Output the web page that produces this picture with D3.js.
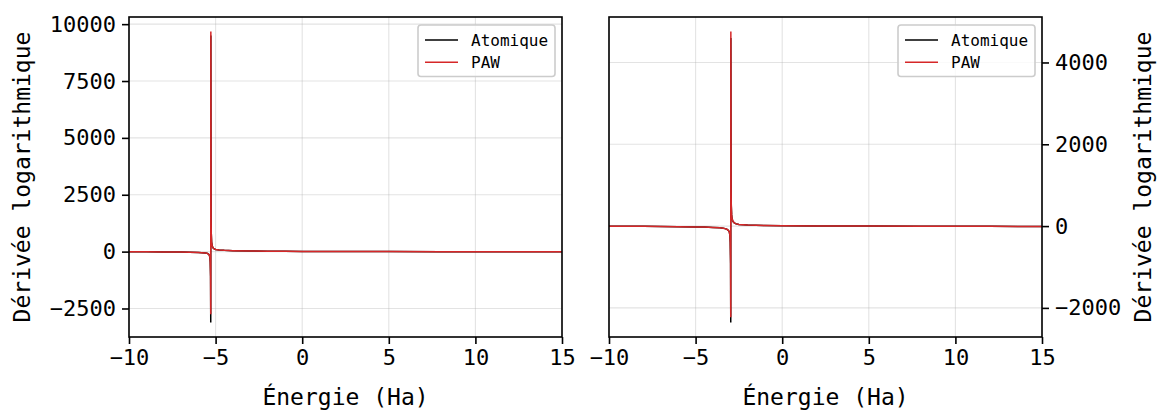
<!DOCTYPE html>
<html><head><meta charset="utf-8">
<script src="https://cdn.jsdelivr.net/npm/d3@7"></script>
<style>
body{margin:0;background:#fff;}
svg text{font-family:"DejaVu Sans Mono",monospace;fill:#000;}
</style></head>
<body><svg id="c" width="1158" height="410"></svg>
<script>
// ---- data ----
const energiesLeft = [-10,-9,-8,-7,-6.5,-6,-5.8,-5.6,-5.5,-5.45,-5.4,-5.36,-5.33,-5.31,-5.29,-5.28,-5.275,-5.26,-5.25,-5.23,-5.2,-5.15,-5.1,-5.0,-4.8,-4.5,-4,-3,-2,-1,0,2,5,8,10,12,15];
const atomicLeft   = [-5,-8,-12,-20,-25,-35,-45,-60,-75,-90,-120,-160,-250,-450,-1100,-3114,9500,1500,800,420,260,170,130,95,70,55,40,25,18,12,8,4,0,-3,-5,-7,-10];
const pawLeft      = [-5,-8,-12,-20,-25,-35,-45,-60,-75,-90,-120,-160,-250,-450,-1100,-2750,9675,1500,800,420,260,170,130,95,70,55,40,25,18,12,8,4,0,-3,-5,-7,-10];

const energiesRight = [-10,-9,-8,-7,-6,-5,-4.5,-4,-3.6,-3.4,-3.3,-3.2,-3.1,-3.05,-3.02,-3.0,-2.98,-2.97,-2.965,-2.95,-2.94,-2.92,-2.9,-2.85,-2.8,-2.7,-2.5,-2,-1,0,2,5,8,10,12,15];
const atomicRight   = [-3,-5,-7,-10,-14,-20,-25,-32,-42,-52,-62,-78,-110,-150,-230,-400,-900,-2356,4600,900,500,280,190,120,90,60,40,25,15,10,5,0,-3,-5,-7,-9];
const pawRight      = [-3,-5,-7,-10,-14,-20,-25,-32,-42,-52,-62,-78,-110,-150,-230,-400,-900,-2227,4756,900,500,280,190,120,90,60,40,25,15,10,5,0,-3,-5,-7,-9];

const xTicks = [-10,-5,0,5,10,15];
const yTicksLeft = [-2500,0,2500,5000,7500,10000];
const yTicksRight = [-2000,0,2000,4000];
const seriesNames = ["Atomique","PAW"];
const seriesColors = ["#000000","#d62728"];

// ---- drawing ----
const svg = d3.select("#c");
const fmt = d3.format("d");
const minus = v => fmt(v).replace("-", "\u2212");

function panel(x0, x1, energies, series, yTicks, side){
  const top = 17, bottom = 337;
  const x = d3.scaleLinear().domain([-10,15]).range([x0,x1]);
  const all = series.flat();
  const lo = d3.min(all), hi = d3.max(all), pad = (hi-lo)*0.05;
  const y = d3.scaleLinear().domain([lo-pad, hi+pad]).range([bottom, top]);
  const g = svg.append("g");
  // grid
  g.append("g").selectAll("line").data(xTicks).join("line")
    .attr("x1",d=>x(d)).attr("x2",d=>x(d)).attr("y1",top).attr("y2",bottom)
    .attr("stroke","#b0b0b0").attr("stroke-opacity",0.35).attr("stroke-width",1.1);
  g.append("g").selectAll("line").data(yTicks).join("line")
    .attr("y1",d=>y(d)).attr("y2",d=>y(d)).attr("x1",x0).attr("x2",x1)
    .attr("stroke","#b0b0b0").attr("stroke-opacity",0.35).attr("stroke-width",1.1);
  // lines
  const clipId = "clip"+x0;
  svg.append("clipPath").attr("id",clipId).append("rect").attr("x",x0).attr("y",top).attr("width",x1-x0).attr("height",bottom-top);
  series.forEach((s,i)=>{
    const line = d3.line().x((d,j)=>x(energies[j])).y(d=>y(d));
    g.append("path").datum(s).attr("d",line).attr("fill","none")
      .attr("stroke",seriesColors[i]).attr("stroke-width",1.5).attr("clip-path",`url(#${clipId})`);
  });
  // axes
  const xa = g.append("g").attr("transform",`translate(0,${bottom})`)
    .call(d3.axisBottom(x).tickValues(xTicks).tickFormat(minus).tickSize(7).tickPadding(5));
  const ya = g.append("g").attr("transform",`translate(${side==="left"?x0:x1},0)`)
    .call((side==="left"?d3.axisLeft(y):d3.axisRight(y)).tickValues(yTicks).tickFormat(minus).tickSize(7).tickPadding(6));
  [xa,ya].forEach(a=>{
    a.select(".domain").remove();
    a.selectAll("line").attr("stroke","#000").attr("stroke-width",1.6);
    a.selectAll("text").attr("font-size",22).attr("font-family","DejaVu Sans Mono");
  });
  // frame
  g.append("rect").attr("x",x0).attr("y",top).attr("width",x1-x0).attr("height",bottom-top)
    .attr("fill","none").attr("stroke","#000").attr("stroke-width",1.6);
  // labels
  g.append("text").attr("x",(x0+x1)/2).attr("y",404.5).attr("text-anchor","middle")
    .attr("font-size",23).text("Énergie (Ha)");
  const lx = side==="left" ? 29.5 : 1151;
  g.append("text").attr("transform",`translate(${lx},${(top+bottom)/2}) rotate(-90)`)
    .attr("text-anchor","middle").attr("font-size",23).text("Dérivée logarithmique");
  // legend
  const lgx = x1-144, lgy = 25;
  const lg = g.append("g");
  lg.append("rect").attr("x",lgx).attr("y",lgy).attr("width",137).attr("height",51.5).attr("rx",3)
    .attr("fill","#fff").attr("fill-opacity",0.8).attr("stroke","#cccccc").attr("stroke-width",1.6);
  seriesNames.forEach((n,i)=>{
    const cy = lgy+15+i*22.3;
    lg.append("line").attr("x1",lgx+7).attr("x2",lgx+40).attr("y1",cy).attr("y2",cy)
      .attr("stroke",seriesColors[i]).attr("stroke-width",1.5);
    lg.append("text").attr("x",lgx+53).attr("y",cy).attr("dy","0.35em").attr("font-size",16).text(n);
  });
}
panel(129,562,energiesLeft,[atomicLeft,pawLeft],yTicksLeft,"left");
panel(609,1042,energiesRight,[atomicRight,pawRight],yTicksRight,"right");
</script></body></html>
